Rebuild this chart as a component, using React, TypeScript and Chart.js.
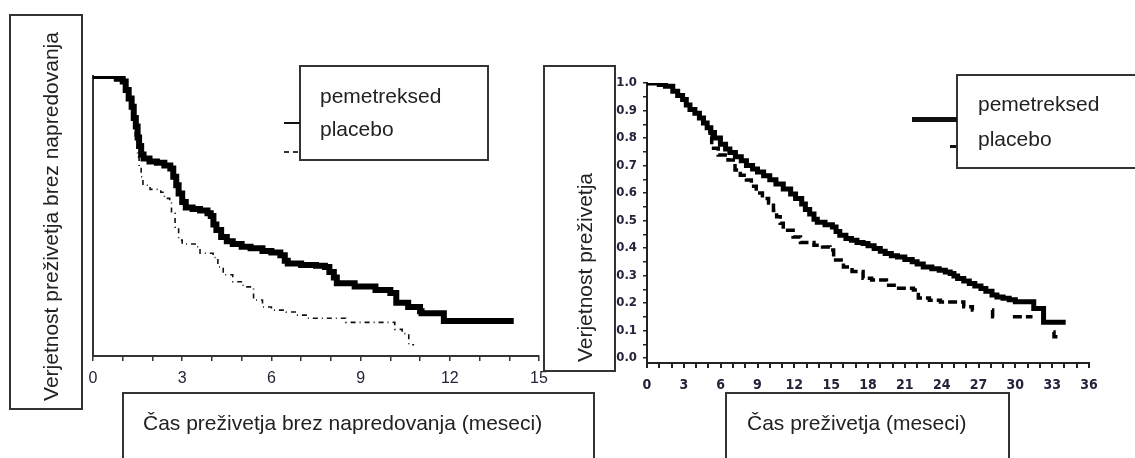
import React, { useEffect, useRef } from 'react';
import { Chart, registerables } from 'chart.js';

Chart.register(...registerables);

// ---------- Data ----------
const seriesNames = ['pemetreksed', 'placebo'];

const pfsYTitle = 'Verjetnost preživetja brez napredovanja';
const pfsXTitle = 'Čas preživetja brez napredovanja (meseci)';
const osYTitle = 'Verjetnost preživetja';
const osXTitle = 'Čas preživetja (meseci)';

// Left panel: progression-free survival
const pfsPemMonths = [0, 0.5, 0.8, 1.0, 1.1, 1.2, 1.3, 1.37, 1.44, 1.5, 1.55, 1.62, 1.7, 1.9, 2.15, 2.4, 2.6, 2.7, 2.8, 2.88, 3.0, 3.12, 3.35, 3.6, 3.85, 3.96, 4.05, 4.15, 4.31, 4.5, 4.7, 5.0, 5.3, 5.7, 6.0, 6.3, 6.45, 6.55, 7.0, 7.5, 7.8, 7.95, 8.1, 8.2, 8.8, 9.5, 10.0, 10.2, 10.6, 11.0, 11.05, 11.8, 14.15];
const pfsPemSurv = [1.0, 1.0, 0.99, 0.98, 0.95, 0.92, 0.89, 0.85, 0.82, 0.78, 0.75, 0.72, 0.705, 0.695, 0.69, 0.68, 0.67, 0.64, 0.61, 0.58, 0.55, 0.53, 0.525, 0.52, 0.51, 0.5, 0.47, 0.45, 0.425, 0.41, 0.4, 0.39, 0.385, 0.375, 0.37, 0.36, 0.34, 0.33, 0.325, 0.322, 0.318, 0.3, 0.28, 0.26, 0.248, 0.236, 0.225, 0.19, 0.175, 0.16, 0.153, 0.125, 0.125];

const pfsPlaMonths = [0, 0.5, 0.9, 1.1, 1.25, 1.35, 1.42, 1.5, 1.55, 1.62, 1.68, 1.92, 2.28, 2.4, 2.58, 2.64, 2.76, 2.88, 3.0, 3.47, 3.6, 4.04, 4.2, 4.38, 4.7, 5.05, 5.4, 5.7, 6.0, 6.5, 6.85, 7.2, 8.5, 10.15, 10.4, 10.62, 10.8];
const pfsPlaSurv = [1.0, 0.995, 0.985, 0.95, 0.9, 0.85, 0.78, 0.71, 0.675, 0.64, 0.61, 0.595, 0.585, 0.563, 0.55, 0.51, 0.46, 0.414, 0.4, 0.39, 0.367, 0.352, 0.318, 0.29, 0.265, 0.247, 0.2, 0.175, 0.164, 0.157, 0.146, 0.135, 0.12, 0.095, 0.08, 0.04, 0.04];

// Right panel: overall survival
const osPemMonths = [0, 0.6, 1.0, 1.5, 2.1, 2.5, 2.9, 3.2, 3.5, 3.9, 4.27, 4.6, 4.9, 5.2, 5.5, 5.98, 6.4, 6.75, 7.2, 7.68, 8.1, 8.6, 9.0, 9.5, 10.0, 10.5, 11.1, 11.7, 12.1, 12.6, 12.9, 13.25, 13.6, 13.87, 14.5, 15.1, 15.4, 15.7, 16.2, 16.65, 17.1, 17.6, 18.0, 18.5, 19.0, 19.4, 19.9, 20.4, 21.0, 21.6, 22.0, 22.5, 23.2, 23.8, 24.3, 24.7, 25.0, 25.3, 25.8, 26.25, 26.7, 27.2, 27.6, 28.1, 28.5, 29.0, 29.5, 30.0, 31.5, 32.3, 34.1];
const osPemSurv = [1.0, 1.0, 0.995, 0.988, 0.97, 0.955, 0.94, 0.92, 0.904, 0.89, 0.873, 0.855, 0.837, 0.82, 0.8, 0.777, 0.76, 0.747, 0.732, 0.717, 0.7, 0.687, 0.676, 0.663, 0.648, 0.633, 0.615, 0.596, 0.58, 0.56, 0.54, 0.524, 0.505, 0.494, 0.485, 0.476, 0.46, 0.446, 0.435, 0.428, 0.42, 0.416, 0.408, 0.398, 0.388, 0.38, 0.372, 0.367, 0.358, 0.35, 0.342, 0.331, 0.325, 0.319, 0.313, 0.307, 0.298, 0.289, 0.28, 0.271, 0.262, 0.253, 0.243, 0.229, 0.222, 0.217, 0.212, 0.205, 0.18, 0.13, 0.13];

const osPlaMonths = [0, 0.6, 1.0, 1.5, 2.1, 2.5, 2.9, 3.2, 3.5, 3.9, 4.27, 4.6, 4.9, 5.13, 5.27, 5.8, 6.6, 7.17, 7.6, 8.1, 8.5, 8.9, 9.4, 9.9, 10.3, 10.56, 10.85, 11.1, 11.9, 12.5, 13.6, 14.3, 14.9, 15.2, 16.0, 16.7, 17.6, 18.3, 19.5, 20.3, 21.7, 22.1, 23.0, 23.9, 25.8, 26.5, 26.6, 27.3, 28.1, 28.15, 28.6, 29.2, 29.8, 31.4, 32.2, 33.1, 33.15, 33.7];
const osPlaSurv = [1.0, 1.0, 0.995, 0.988, 0.97, 0.955, 0.94, 0.92, 0.904, 0.89, 0.873, 0.855, 0.837, 0.805, 0.763, 0.738, 0.72, 0.684, 0.665, 0.647, 0.625, 0.6, 0.58, 0.564, 0.536, 0.514, 0.49, 0.465, 0.44, 0.42, 0.41, 0.404, 0.393, 0.356, 0.331, 0.315, 0.29, 0.284, 0.265, 0.254, 0.247, 0.218, 0.21, 0.204, 0.186, 0.175, 0.175, null, 0.175, 0.15, 0.15, null, 0.15, 0.15, null, 0.095, 0.077, 0.077];

const osYTickValues = [0, 0.05, 0.1, 0.15, 0.2, 0.25, 0.3, 0.35, 0.4, 0.45, 0.5, 0.55, 0.6, 0.65, 0.7, 0.75, 0.8, 0.85, 0.9, 0.95, 1.0];

// ---------- helpers ----------
const pairs = (t: number[], s: (number | null)[]) => t.map((x, i) => ({ x, y: s[i] }));

const SANS = '"Liberation Sans", Arial, Helvetica, sans-serif';
const NARROW = '"Liberation Sans Narrow", "DejaVu Sans Condensed", "Arial Narrow", sans-serif';
const INK = '#222';
const TICK_INK = '#23233a';
const BORDER = '2px solid #333';
const TITLE_SIZE = 21;

function usePanel(ref: React.RefObject<HTMLCanvasElement>, build: () => any) {
  useEffect(() => {
    if (!ref.current) return;
    const chart = new Chart(ref.current, build());
    return () => chart.destroy();
  }, []);
}

function pfsConfig(): any {
  return {
    type: 'line',
    data: {
      datasets: [
        {
          label: seriesNames[0],
          data: pairs(pfsPemMonths, pfsPemSurv),
          borderColor: '#000',
          borderWidth: 6,
          stepped: true,
          pointRadius: 0,
          borderJoinStyle: 'miter',
        },
        {
          label: seriesNames[1],
          data: pairs(pfsPlaMonths, pfsPlaSurv),
          borderColor: '#111',
          borderWidth: 1.6,
          borderDash: [5, 4, 1, 4],
          stepped: true,
          pointRadius: 0,
        },
      ],
    },
    options: {
      responsive: false,
      animation: false,
      events: [],
      layout: { autoPadding: false, padding: { left: 0, top: 20, right: 21, bottom: 0 } },
      plugins: { legend: { display: false }, tooltip: { enabled: false } },
      scales: {
        x: {
          type: 'linear',
          min: 0,
          max: 15,
          afterFit: (s: any) => { s.height = 40; },
          ticks: {
            stepSize: 1,
            autoSkip: false,
            maxRotation: 0,
            padding: 8,
            color: TICK_INK,
            font: { family: SANS, size: 16 },
            callback: (v: number) => (v % 3 === 0 ? String(v) : ''),
          },
          grid: { drawOnChartArea: false, drawTicks: true, tickLength: 5, color: '#333', lineWidth: 1.5 },
          border: { color: '#333', width: 2 },
        },
        y: {
          type: 'linear',
          min: 0,
          max: 1,
          afterFit: (s: any) => { s.width = 53; },
          ticks: { display: false, stepSize: 0.1 },
          grid: { drawOnChartArea: false, drawTicks: false },
          border: { color: '#333', width: 2, dash: [26, 2], dashOffset: 12 },
        },
      },
    },
  };
}

function osConfig(): any {
  return {
    type: 'line',
    data: {
      datasets: [
        {
          label: seriesNames[0],
          data: pairs(osPemMonths, osPemSurv),
          borderColor: '#000',
          borderWidth: 5,
          stepped: true,
          pointRadius: 0,
          borderJoinStyle: 'miter',
        },
        {
          label: seriesNames[1],
          data: pairs(osPlaMonths, osPlaSurv),
          borderColor: '#000',
          borderWidth: 3.5,
          borderDash: [9, 4],
          stepped: true,
          spanGaps: false,
          pointRadius: 0,
        },
      ],
    },
    options: {
      responsive: false,
      animation: false,
      events: [],
      layout: { autoPadding: false, padding: { left: 0, top: 23, right: 31, bottom: 0 } },
      plugins: { legend: { display: false }, tooltip: { enabled: false } },
      scales: {
        x: {
          type: 'linear',
          min: 0,
          max: 36,
          afterFit: (s: any) => { s.height = 37; },
          ticks: {
            stepSize: 1,
            autoSkip: false,
            maxRotation: 0,
            padding: 9,
            color: TICK_INK,
            font: { family: NARROW, size: 14, weight: 'bold' },
            callback: (v: number) => (v % 3 === 0 ? String(v) : ''),
          },
          grid: { drawOnChartArea: false, drawTicks: true, tickLength: 5, color: '#222', lineWidth: 2 },
          border: { color: '#222', width: 2 },
        },
        y: {
          type: 'linear',
          min: -0.01818,
          max: 1,
          afterFit: (s: any) => { s.width = 47; },
          afterBuildTicks: (s: any) => { s.ticks = osYTickValues.map((v) => ({ value: v })); },
          ticks: {
            autoSkip: false,
            padding: 6,
            color: TICK_INK,
            font: { family: NARROW, size: 13, weight: 'bold' },
            callback: (v: number) => (Math.round(v * 100) % 10 === 0 ? v.toFixed(1) : ''),
          },
          grid: { drawOnChartArea: false, drawTicks: true, tickLength: 4, color: '#222', lineWidth: 1.5 },
          border: { color: '#222', width: 2 },
        },
      },
    },
  };
}

// ---------- decorations ----------
const abs = (left: number, top: number, width: number, height: number, extra: React.CSSProperties = {}): React.CSSProperties => ({
  position: 'absolute', left, top, width, height, boxSizing: 'border-box', ...extra,
});

function Box({ l, t, w, h }: { l: number; t: number; w: number; h: number }) {
  return <div style={abs(l, t, w, h, { border: BORDER })} />;
}

// horizontal text: x = left edge, b = baseline
function HText({ x, b, text, size = TITLE_SIZE }: { x: number; b: number; text: string; size?: number }) {
  return (
    <div
      style={{
        position: 'absolute', left: x, top: b - 0.8465 * size, whiteSpace: 'nowrap',
        fontFamily: SANS, fontSize: size, lineHeight: `${size}px`, color: INK,
      }}
    >
      {text}
    </div>
  );
}

// vertical text rotated -90deg, centred on (cx, cy)
function VText({ cx, cy, text, size = TITLE_SIZE }: { cx: number; cy: number; text: string; size?: number }) {
  const w = 500;
  return (
    <div
      style={{
        position: 'absolute', left: cx - w / 2, top: cy - size / 2, width: w, height: size,
        textAlign: 'center', whiteSpace: 'nowrap', fontFamily: SANS, fontSize: size,
        lineHeight: `${size}px`, color: INK, transform: 'rotate(-90deg)', transformOrigin: '50% 50%',
      }}
    >
      {text}
    </div>
  );
}

function Rule({ l, t, w, h, dash }: { l: number; t: number; w: number; h: number; dash?: boolean }) {
  if (!dash) return <div style={abs(l, t, w, h, { background: '#111' })} />;
  return (
    <div style={abs(l, t, w, h, { background: 'repeating-linear-gradient(90deg, #333 0 5px, transparent 5px 9px)' })} />
  );
}

export default function App() {
  const leftRef = useRef<HTMLCanvasElement>(null);
  const rightRef = useRef<HTMLCanvasElement>(null);
  usePanel(leftRef, pfsConfig);
  usePanel(rightRef, osConfig);

  return (
    <div style={{ position: 'absolute', left: 0, top: 0, width: 1135, height: 458, overflow: 'hidden', background: '#fff' }}>
      {/* left panel */}
      <canvas ref={leftRef} width={520} height={340} style={{ position: 'absolute', left: 40, top: 56, width: 520, height: 340 }} />
      <Box l={9} t={14} w={74} h={396} />
      <VText cx={50} cy={216} text={pfsYTitle} />
      <Box l={299} t={65} w={190} h={96} />
      <HText x={320} b={103} text={seriesNames[0]} />
      <HText x={320} b={136} text={seriesNames[1]} />
      <Rule l={284} t={122} w={16} h={1.5} />
      <Rule l={284} t={151} w={16} h={1.5} dash />
      <Box l={122} t={392} w={473} h={100} />
      <HText x={143} b={430} text={pfsXTitle} />

      {/* right panel */}
      <canvas ref={rightRef} width={520} height={340} style={{ position: 'absolute', left: 600, top: 60, width: 520, height: 340 }} />
      <Box l={543} t={65} w={73} h={307} />
      <VText cx={584} cy={267.5} text={osYTitle} />
      <Box l={956} t={74} w={250} h={95} />
      <HText x={978} b={111} text={seriesNames[0]} />
      <HText x={978} b={146} text={seriesNames[1]} />
      <Rule l={912} t={117} w={45} h={5} />
      <Rule l={950} t={145} w={6} h={3} />
      <Box l={725} t={392} w={285} h={100} />
      <HText x={747} b={430} text={osXTitle} />
    </div>
  );
}
